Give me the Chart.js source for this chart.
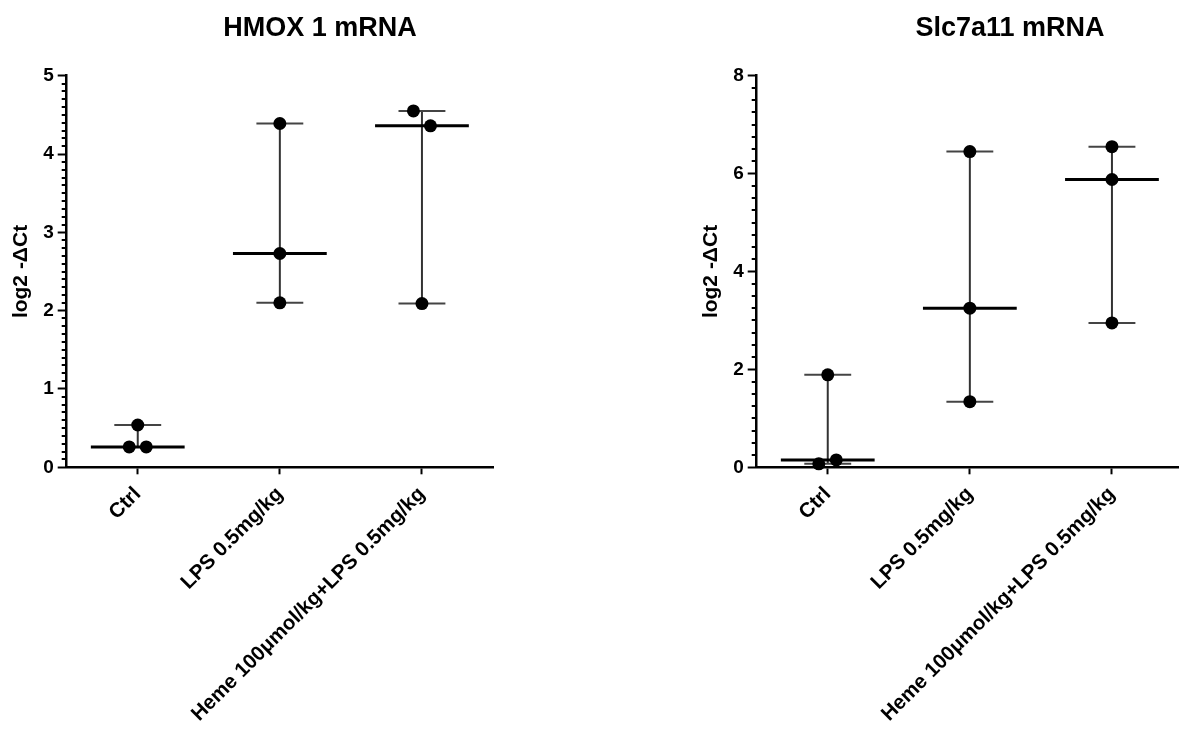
<!DOCTYPE html>
<html>
<head>
<meta charset="utf-8">
<script src="https://cdn.jsdelivr.net/npm/chart.js@4.4.1/dist/chart.umd.min.js"></script>
<style>
  html, body { margin: 0; padding: 0; background: #fff; overflow: hidden; }
  #wrap { position: relative; width: 1179px; height: 731px; overflow: hidden; }
  canvas { position: absolute; top: 0; }
  #hmox { left: 0; }
  #slc { left: 690px; }
</style>
</head>
<body>
<div id="wrap">
  <canvas id="hmox" width="640" height="731"></canvas>
  <canvas id="slc" width="640" height="731"></canvas>
</div>
<script>
const groups = ['Ctrl', 'LPS 0.5mg/kg', 'Heme 100\u03bcmol/kg+LPS 0.5mg/kg'];

// log2 -ΔCt, three animals per group
const hmoxCtrl = [0.26, 0.26, 0.54];
const hmoxLps  = [2.10, 2.73, 4.39];
const hmoxHeme = [2.09, 4.36, 4.55];

const slcCtrl = [0.07, 0.15, 1.89];
const slcLps  = [1.34, 3.25, 6.45];
const slcHeme = [2.95, 5.88, 6.55];

// sideways scatter of overlapping dots (fraction of a category)
const hmoxJitter = [[-0.06, 0.06, 0], [0, 0, 0], [0, 0.06, -0.06]];
const slcJitter  = [[-0.063, 0.06, 0], [0, 0, 0], [0, 0, 0]];

const FONT = "'Liberation Sans', Arial, sans-serif";

function median(arr) {
  const s = [...arr].sort((a, b) => a - b);
  const m = Math.floor(s.length / 2);
  return s.length % 2 ? s[m] : (s[m - 1] + s[m]) / 2;
}

// median line + min/max range, drawn under the dots
function rangePlugin(sets) {
  return {
    id: 'medianRange',
    beforeDatasetsDraw(chart) {
      const { ctx, scales: { x, y } } = chart;
      const seg = (x1, y1, x2, y2) => { ctx.beginPath(); ctx.moveTo(x1, y1); ctx.lineTo(x2, y2); ctx.stroke(); };
      ctx.save();
      sets.forEach((vals, i) => {
        const cx = x.getPixelForValue(i);
        const lo = y.getPixelForValue(Math.min(...vals));
        const hi = y.getPixelForValue(Math.max(...vals));
        const md = y.getPixelForValue(median(vals));
        const capW = x.getPixelForValue(i + 0.165) - cx;
        const medW = x.getPixelForValue(i + 0.33) - cx;
        ctx.strokeStyle = '#333';
        ctx.lineWidth = 2;
        seg(cx, lo, cx, hi);
        ctx.strokeStyle = '#444';
        seg(cx - capW, lo, cx + capW, lo);
        seg(cx - capW, hi, cx + capW, hi);
        ctx.strokeStyle = '#000';
        ctx.lineWidth = 3;
        seg(cx - medW, md, cx + medW, md);
      });
      ctx.restore();
    }
  };
}

// short minor ticks on the y axis
function minorTicks(step, major) {
  return {
    id: 'minorTicks',
    afterDraw(chart) {
      const { ctx } = chart;
      const y = chart.scales.y;
      const ax = chart.chartArea.left;
      const n = Math.round((y.max - y.min) / step);
      const every = Math.round(major / step);
      ctx.save();
      ctx.strokeStyle = '#000';
      ctx.lineWidth = 2;
      for (let k = 0; k <= n; k++) {
        if (k % every === 0) continue;
        const py = Math.round(y.getPixelForValue(y.min + k * step));
        ctx.beginPath();
        ctx.moveTo(ax - 5, py);
        ctx.lineTo(ax, py);
        ctx.stroke();
      }
      ctx.restore();
    }
  };
}

function buildChart(id, title, sets, jitter, yMax, yStep, minorStep) {
  const data = [];
  sets.forEach((vals, i) => vals.forEach((v, j) => data.push({ x: i + jitter[i][j], y: v })));

  return new Chart(document.getElementById(id), {
    type: 'scatter',
    data: {
      datasets: [{
        data,
        clip: false,
        pointRadius: 6.5,
        pointHoverRadius: 6.5,
        pointBackgroundColor: '#000',
        pointBorderColor: '#000',
        pointBorderWidth: 0,
      }],
    },
    options: {
      responsive: false,
      animation: false,
      events: [],
      layout: { padding: 0 },
      plugins: {
        legend: { display: false },
        tooltip: { enabled: false },
        title: {
          display: true,
          text: title,
          color: '#000',
          font: { family: FONT, size: 27, weight: 'bold' },
          padding: { top: 12.8, bottom: 30.5 },
        },
      },
      scales: {
        x: {
          type: 'linear',
          min: -0.5,
          max: 2.5,
          afterBuildTicks: s => { s.ticks = groups.map((_, i) => ({ value: i })); },
          afterFit: s => { s.height = 263.7; },
          border: { display: true, color: '#000', width: 2.5 },
          grid: { display: true, drawOnChartArea: false, drawTicks: true, tickLength: 7, tickWidth: 2, tickColor: '#000' },
          ticks: {
            autoSkip: false,
            minRotation: 45,
            maxRotation: 45,
            padding: 8,
            color: '#000',
            font: { family: FONT, size: 20.5, weight: 'bold' },
            callback: v => groups[v],
          },
        },
        y: {
          min: 0,
          max: yMax,
          afterFit: s => { s.width = 66.7; },
          border: { display: true, color: '#000', width: 2.5 },
          grid: { display: true, drawOnChartArea: false, drawTicks: true, tickLength: 9, tickWidth: 2, tickColor: '#000' },
          ticks: {
            stepSize: yStep,
            padding: 4,
            color: '#000',
            font: { family: FONT, size: 19, weight: 'bold' },
          },
          title: {
            display: true,
            text: 'log2 -\u0394Ct',
            color: '#000',
            font: { family: FONT, size: 21, weight: 'bold' },
            padding: { top: 8.5, bottom: 0 },
          },
        },
        // empty strip on the right so the title centres like the original
        pad: {
          type: 'linear',
          position: 'right',
          display: true,
          afterFit: s => { s.width = 147; },
          border: { display: false },
          grid: { display: false, drawTicks: false },
          ticks: { display: false },
        },
      },
    },
    plugins: [rangePlugin(sets), minorTicks(minorStep, yStep)],
  });
}

buildChart('hmox', 'HMOX 1 mRNA', [hmoxCtrl, hmoxLps, hmoxHeme], hmoxJitter, 5, 1, 0.1);
buildChart('slc', 'Slc7a11 mRNA', [slcCtrl, slcLps, slcHeme], slcJitter, 8, 2, 0.25);
</script>
</body>
</html>
